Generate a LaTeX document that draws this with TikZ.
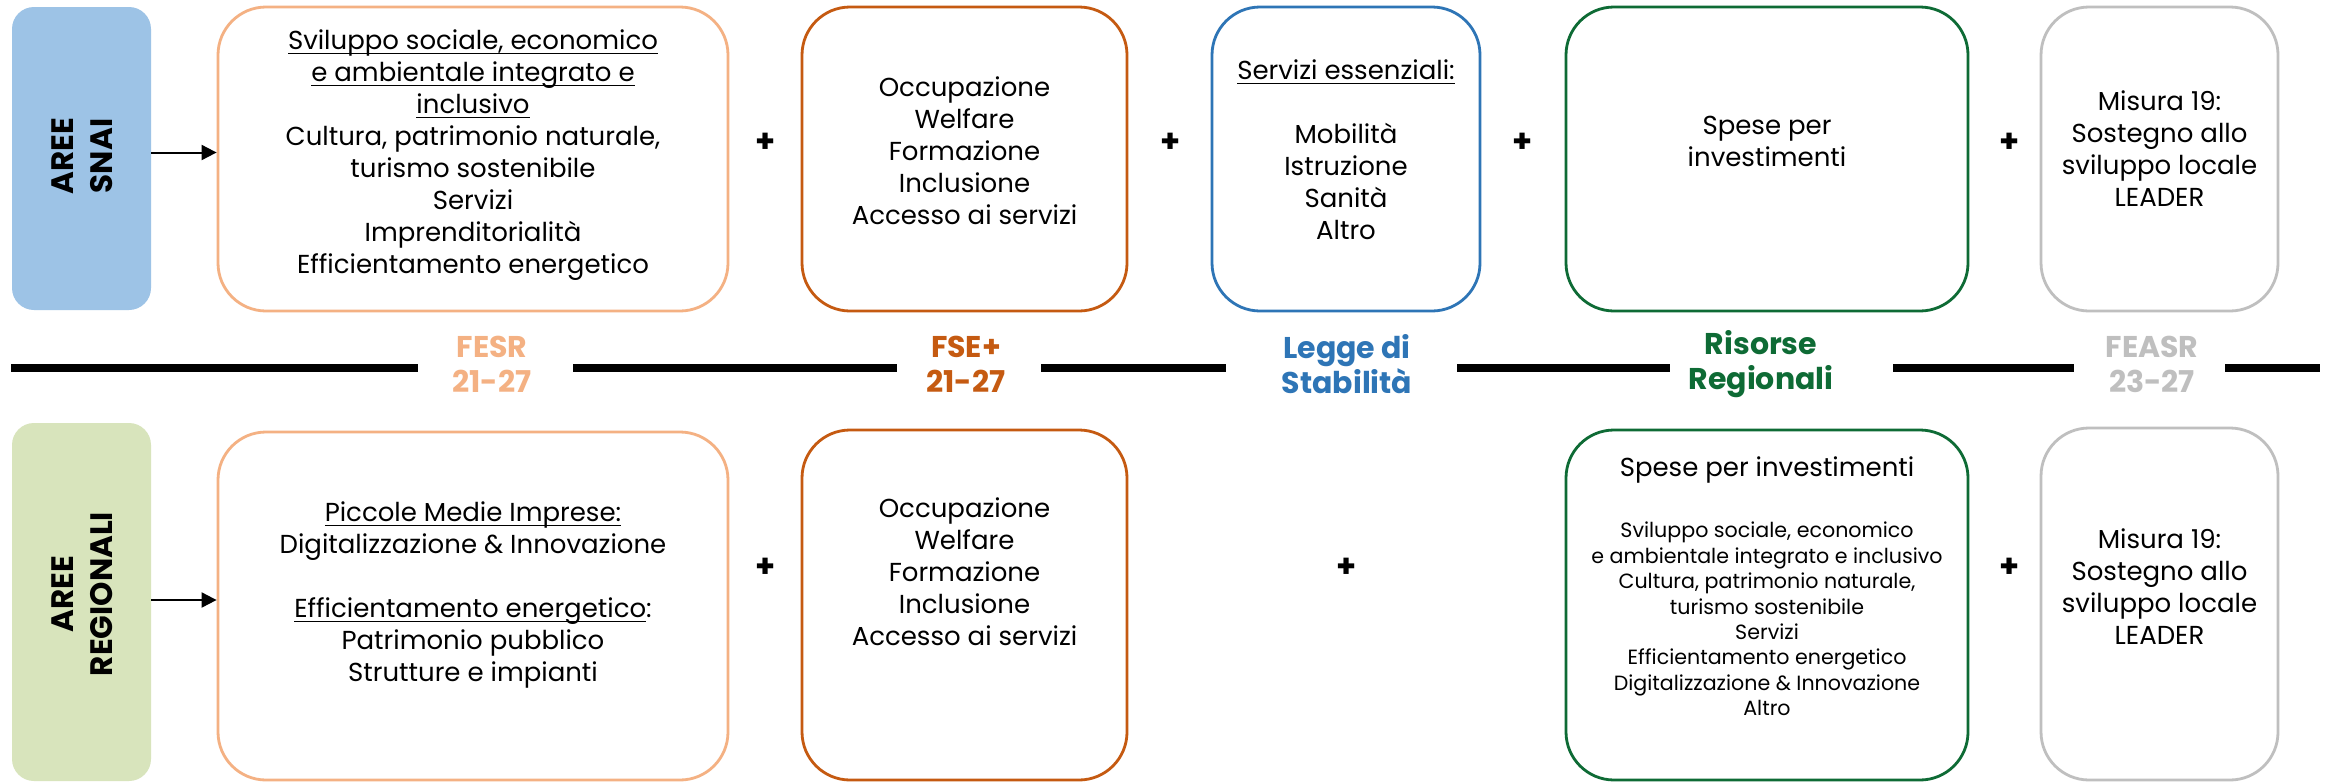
\documentclass[tikz,border=0pt]{standalone}
\usepackage{fontspec}
\setmainfont{Poppins}
\usetikzlibrary{arrows.meta}
\newcommand\myul[1]{\setbox0\hbox{#1}\rlap{\rule[-2.2pt]{\wd0}{0.6pt}}\box0}
\definecolor{snaiblue}{HTML}{9DC3E6}
\definecolor{reggreen}{HTML}{D8E4BC}
\definecolor{fesrc}{HTML}{F4B183}
\definecolor{fsec}{HTML}{C55A11}
\definecolor{leggec}{HTML}{2E75B6}
\definecolor{risc}{HTML}{0E6B35}
\definecolor{feasrc}{HTML}{BFBFBF}
\begin{document}
\begin{tikzpicture}[x=0.5pt,y=-0.5pt,
 area/.style={fill=#1, draw=none, rounded corners=11pt, inner sep=0pt},
 fbox/.style={draw=#1, line width=1.4pt, rounded corners=24pt, fill=white, inner sep=0pt},
 body/.style={align=center, font=\fontsize{13}{16}\selectfont, inner sep=0pt},
 small/.style={align=center, font=\fontsize{10.3}{12.7}\selectfont, inner sep=0pt},
 fund/.style={align=center, text=#1, font=\fontsize{15}{17.5}\selectfont\bfseries, inner sep=0pt},
 areatext/.style={align=center, rotate=90, inner sep=0pt, font=\fontsize{15.5}{19.5}\selectfont\bfseries},
 plus/.style={inner sep=0pt, font=\fontsize{16}{16}\selectfont\bfseries},
 sepline/.style={line width=4pt},
 arr/.style={line width=1pt, -{Triangle[length=7.5pt,width=7.5pt]}},
]
\fill[white] (0,0) rectangle (2328,782);
\useasboundingbox (0,0) rectangle (2328,782);

% left area boxes
\node[area=snaiblue, minimum width=69.5pt, minimum height=151.5pt] (snai) at (81.5,158.5) {};
\node[areatext] (snaitxt) at (82,156) {AREE\\SNAI};
\node[area=reggreen, minimum width=69.5pt, minimum height=179pt] (reg) at (81.5,602) {};
\node[areatext] (regtxt) at (82,594) {AREE\\REGIONALI};

% top row
\node[fbox=fesrc, minimum width=255pt, minimum height=152pt] (fesrA) at (473,159) {};
\node[body] (fesrAt) at (473,155) {\myul{Sviluppo sociale, economico}\\\myul{e ambientale integrato e}\\\myul{inclusivo}\\Cultura, patrimonio naturale,\\turismo sostenibile\\Servizi\\Imprenditorialità\\Efficientamento energetico};
\node[fbox=fsec, minimum width=162.5pt, minimum height=152pt] (fseA) at (964.5,159) {};
\node[body] (fseAt) at (964.5,151) {Occupazione\\Welfare\\Formazione\\Inclusione\\Accesso ai servizi};
\node[fbox=leggec, minimum width=134pt, minimum height=152pt] (leggeA) at (1346,159) {};
\node[body] (leggeAt) at (1346,150) {\myul{Servizi essenziali:}\\[16pt]Mobilità\\Istruzione\\Sanità\\Altro};
\node[fbox=risc, minimum width=201pt, minimum height=152pt] (risA) at (1767,159) {};
\node[body] (risAt) at (1767,141) {Spese per\\investimenti};
\node[fbox=feasrc, minimum width=118.5pt, minimum height=152pt] (feasrA) at (2159.5,159) {};
\node[body] (feasrAt) at (2159.5,148.5) {Misura 19:\\Sostegno allo\\sviluppo locale\\LEADER};

\node[plus] (pA1) at (766,143) {+};
\node[plus] (pA2) at (1171,143) {+};
\node[plus] (pA3) at (1523,143) {+};
\node[plus] (pA4) at (2010,143) {+};

% bottom row
\node[fbox=fesrc, minimum width=255pt, minimum height=174pt] (fesrB) at (473,606) {};
\node[body] (fesrBt) at (473,595) {\myul{Piccole Medie Imprese:}\\Digitalizzazione \& Innovazione\\[16pt]\myul{Efficientamento energetico}:\\Patrimonio pubblico\\Strutture e impianti};
\node[fbox=fsec, minimum width=162.5pt, minimum height=175pt] (fseB) at (964.5,605) {};
\node[body] (fseBt) at (964.5,572) {Occupazione\\Welfare\\Formazione\\Inclusione\\Accesso ai servizi};
\node[fbox=risc, minimum width=201pt, minimum height=175pt] (risB) at (1767,605) {};
\node[body] (risBtitle) at (1767,470) {Spese per investimenti};
\node[small] (risBt) at (1767,619) {Sviluppo sociale, economico\\e ambientale integrato e inclusivo\\Cultura, patrimonio naturale,\\turismo sostenibile\\Servizi\\Efficientamento energetico\\Digitalizzazione \& Innovazione\\Altro};
\node[fbox=feasrc, minimum width=118.5pt, minimum height=176pt] (feasrB) at (2159.5,604) {};
\node[body] (feasrBt) at (2159.5,587) {Misura 19:\\Sostegno allo\\sviluppo locale\\LEADER};

\node[plus] (pB1) at (766,568) {+};
\node[plus] (pB2) at (1347,568) {+};
\node[plus] (pB3) at (2010,568) {+};

% fund labels
\node[fund=fesrc] (lfesr) at (492,364) {FESR\\21-27};
\node[fund=fsec] (lfse) at (966,364) {FSE+\\21-27};
\node[fund=leggec] (llegge) at (1347,364) {Legge di\\Stabilità};
\node[fund=risc] (lris) at (1761,364) {Risorse\\Regionali};
\node[fund=feasrc] (lfeasr) at (2152,364) {FEASR\\23-27};

% separator line
\draw[sepline] (11,368) -- (418,368);
\draw[sepline] (573,368) -- (897,368);
\draw[sepline] (1041,368) -- (1226,368);
\draw[sepline] (1457,368) -- (1670,368);
\draw[sepline] (1893,368) -- (2074,368);
\draw[sepline] (2225,368) -- (2320,368);

% arrows
\draw[arr] ([yshift=3pt]snai.east) -- ([yshift=3pt]snai.east -| fesrA.west);
\draw[arr] ([yshift=1pt]reg.east) -- ([yshift=1pt]reg.east -| fesrB.west);
\end{tikzpicture}
\end{document}
